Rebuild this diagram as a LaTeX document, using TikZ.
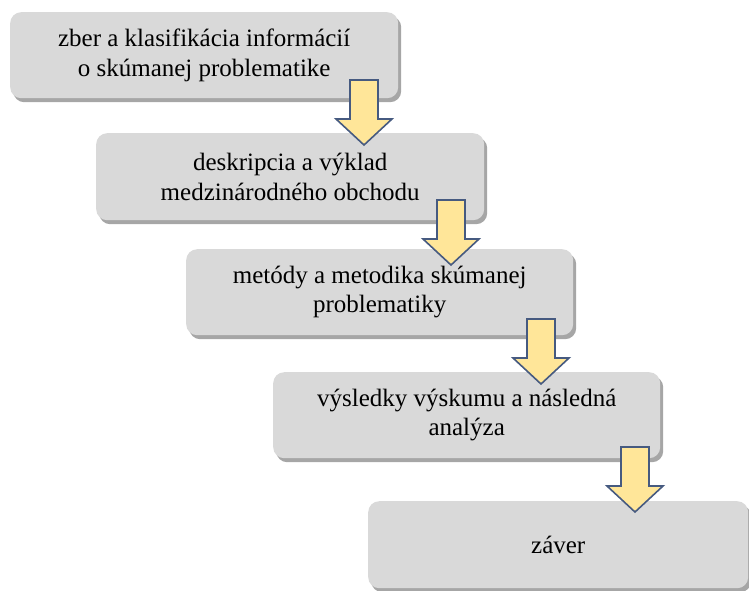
\documentclass[tikz,border=0pt]{standalone}
\usepackage{fontspec}
\setmainfont{Liberation Serif}
\usetikzlibrary{shadows}
\definecolor{boxgray}{HTML}{D9D9D9}
\definecolor{arrowfill}{HTML}{FFE699}
\definecolor{arrowline}{RGB}{70,90,128}
\tikzset{
  procbox/.style={anchor=north west, fill=boxgray, rounded corners=11pt,
    inner sep=0pt, align=center, font=\fontsize{25}{29.5}\selectfont,
    drop shadow={shadow xshift=3pt, shadow yshift=-4pt, fill=black, opacity=0.35}},
  blockarrow/.style={fill=arrowfill, draw=arrowline, line width=1.6pt, line join=miter}
}
\newcommand{\blkarrow}[1]{%
  \draw[blockarrow] ([xshift=-14pt]#1) -- ([xshift=14pt]#1) -- ([xshift=14pt,yshift=-39pt]#1)
   -- ([xshift=28pt,yshift=-39pt]#1) -- ([yshift=-65pt]#1) -- ([xshift=-28pt,yshift=-39pt]#1)
   -- ([xshift=-14pt,yshift=-39pt]#1) -- cycle;}
\begin{document}
\begin{tikzpicture}[x=1pt,y=-1pt]
\useasboundingbox (0,0) rectangle (749,590);
\node[procbox, minimum width=388pt, minimum height=86pt] (b1) at (10,12)
  {zber a klasifikácia informácií\\o skúmanej problematike};
\node[procbox, minimum width=388pt, minimum height=87pt] (b2) at (96,133)
  {deskripcia a výklad\\medzinárodného obchodu};
\node[procbox, minimum width=387pt, minimum height=86pt] (b3) at (186,249)
  {metódy a metodika skúmanej\\problematiky};
\node[procbox, minimum width=387pt, minimum height=86pt] (b4) at (273,372)
  {výsledky výskumu a následná\\analýza};
\node[procbox, minimum width=380pt, minimum height=87pt] (b5) at (368,501)
  {záver};
\coordinate (a1) at (364,80);
\coordinate (a2) at (451,200);
\coordinate (a3) at (541,319);
\coordinate (a4) at (635,447);
\blkarrow{a1}
\blkarrow{a2}
\blkarrow{a3}
\blkarrow{a4}
\end{tikzpicture}
\end{document}
